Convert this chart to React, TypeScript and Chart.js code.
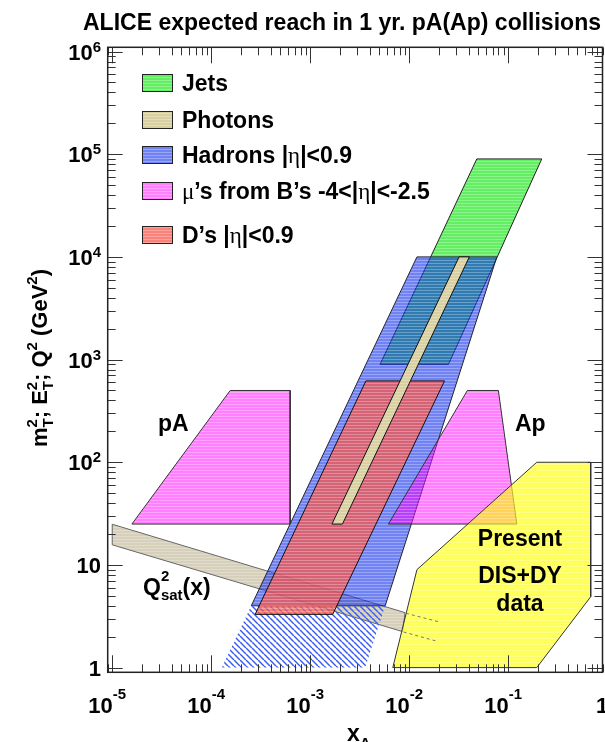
import React, { useEffect, useRef } from "react";
import { Chart, registerables } from "chart.js";

Chart.register(...registerables);

const SANS = '"Liberation Sans", Arial, Helvetica, sans-serif';
const SERIF = '"Liberation Serif", "DejaVu Serif", serif';

// ---------- axis ranges & tick labels ----------
const X_MIN = 9e-6;
const X_MAX = 0.9;
const Y_MIN = 0.9;
const Y_MAX = 1.1e6;
const xTickValues = [1e-5, 1e-4, 1e-3, 1e-2, 1e-1, 1];
const xTickBase = ["10", "10", "10", "10", "10", "1"];
const xTickSup = ["-5", "-4", "-3", "-2", "-1", ""];
const yTickValues = [1, 10, 100, 1e3, 1e4, 1e5, 1e6];
const yTickBase = ["1", "10", "10", "10", "10", "10", "10"];
const yTickSup = ["", "", "2", "3", "4", "5", "6"];

// ---------- regions (x_A, Q^2 vertices) ----------
const jetsX = [0.0483, 0.219, 0.025, 0.00509];
const jetsY = [9e4, 9e4, 900, 900];
const photonsX = [0.032, 0.0406, 0.00212, 0.00166];
const photonsY = [1e4, 1e4, 25, 25];
const hadronsX = [0.012, 0.077, 0.00573, 0.000254];
const hadronsY = [1e4, 1e4, 4, 4];
const hadronsLowX = [0.000254, 0.00573, 0.0036, 0.000128];
const hadronsLowY = [4, 4, 1, 1];
const dMesonX = [0.00366, 0.0228, 0.00169, 0.000278];
const dMesonY = [620, 620, 3.3, 3.3];
const muPAX = [0.0000158, 0.0001556, 0.000628, 0.000628];
const muPAY = [25, 500, 500, 25];
const muApX = [0.00618, 0.0388, 0.0798, 0.1225];
const muApY = [25, 500, 500, 25];
const disX = [0.00684, 0.012, 0.195, 0.684, 0.684, 0.195];
const disY = [1, 9, 100, 100, 4.9, 1];
const qsatX = [1e-5, 0.0091, 0.0086, 1e-5];
const qsatY = [24.9, 3.43, 2.24, 15.7];
const qsatExtTopX = [0.0093, 0.0198];
const qsatExtTopY = [3.38, 2.8];
const qsatExtBotX = [0.0088, 0.0198];
const qsatExtBotY = [2.22, 1.79];

// ---------- texts ----------
const TITLE = "ALICE expected reach in 1 yr. pA(Ap) collisions";
const legendNames = ["Jets", "Photons", "Hadrons", "muons", "D"];
const disLines = ["Present", "DIS+DY", "data"];

type Seg = { t: string; size: number; dy?: number; serif?: boolean; normal?: boolean; stack?: boolean };

function segFont(s: Seg) {
  return `${s.normal ? "" : "bold "}${s.size}px ${s.serif ? SERIF : SANS}`;
}
function richWidth(ctx: CanvasRenderingContext2D, segs: Seg[]) {
  let x = 0;
  let prev = 0;
  for (const s of segs) {
    ctx.font = segFont(s);
    const w = ctx.measureText(s.t).width;
    if (s.stack) x = Math.max(x, prev + w);
    else {
      prev = x;
      x += w;
    }
  }
  return x;
}
function drawRich(ctx: CanvasRenderingContext2D, x0: number, y0: number, segs: Seg[], align = "left") {
  const w = richWidth(ctx, segs);
  let x = align === "center" ? x0 - w / 2 : align === "right" ? x0 - w : x0;
  let prev = x;
  ctx.textAlign = "left";
  ctx.textBaseline = "alphabetic";
  for (const s of segs) {
    ctx.font = segFont(s);
    const tw = ctx.measureText(s.t).width;
    if (s.stack) {
      ctx.fillText(s.t, prev, y0 + (s.dy || 0));
      x = Math.max(x, prev + tw);
    } else {
      prev = x;
      ctx.fillText(s.t, x, y0 + (s.dy || 0));
      x += tw;
    }
  }
}

const F = 23;
const legendSegs: Seg[][] = [
  [{ t: "Jets", size: F }],
  [{ t: "Photons", size: F }],
  [{ t: "Hadrons |", size: F }, { t: "η", size: F, serif: true, normal: true }, { t: "|<0.9", size: F }],
  [
    { t: "μ", size: F, serif: true, normal: true },
    { t: "’s from B’s -4<|", size: F },
    { t: "η", size: F, serif: true, normal: true },
    { t: "|<-2.5", size: F },
  ],
  [{ t: "D’s |", size: F }, { t: "η", size: F, serif: true, normal: true }, { t: "|<0.9", size: F }],
];
const legendRowY = [83, 120, 155, 191, 235];

function scanPattern(r: number, g: number, b: number, a: number) {
  const c = document.createElement("canvas");
  c.width = 2;
  c.height = 3;
  const p = c.getContext("2d")!;
  p.fillStyle = `rgba(${r},${g},${b},${a})`;
  p.fillRect(0, 0, 2, 2);
  const l = (v: number) => Math.round(v + (255 - v) * 0.28);
  p.fillStyle = `rgba(${l(r)},${l(g)},${l(b)},${a})`;
  p.fillRect(0, 2, 2, 1);
  return p.createPattern(c, "repeat")!;
}
function hatchPattern() {
  const s = 6;
  const c = document.createElement("canvas");
  c.width = s;
  c.height = s;
  const p = c.getContext("2d")!;
  p.strokeStyle = "rgb(60,95,240)";
  p.lineWidth = 1.5;
  for (const k of [-1, 0, 1]) {
    p.beginPath();
    p.moveTo(k * s, 0);
    p.lineTo(k * s + s, s);
    p.stroke();
  }
  return p.createPattern(c, "repeat")!;
}

function poly(label: string, xs: number[], ys: number[], fill: any, border: string, order: number, bw = 1) {
  const data = xs.map((x, i) => ({ x, y: ys[i] }));
  data.push({ x: xs[0], y: ys[0] });
  return {
    type: "line",
    label,
    data,
    backgroundColor: fill,
    borderColor: border,
    borderWidth: bw,
    fill: "shape",
    pointRadius: 0,
    pointHoverRadius: 0,
    tension: 0,
    order,
  };
}
function dashed(label: string, xs: number[], ys: number[], order: number) {
  return {
    type: "line",
    label,
    data: xs.map((x, i) => ({ x, y: ys[i] })),
    borderColor: "#777",
    borderWidth: 1,
    borderDash: [3, 3],
    fill: false,
    pointRadius: 0,
    tension: 0,
    order,
  };
}

export default function App() {
  const ref = useRef<HTMLCanvasElement>(null);
  useEffect(() => {
    document.body.style.margin = "0";
    const canvas = ref.current!;
    const fills: Record<string, any> = {
      Jets: scanPattern(100, 238, 100, 1),
      Photons: scanPattern(216, 208, 160, 1),
      Hadrons: scanPattern(10, 40, 235, 0.58),
      muons: scanPattern(255, 0, 255, 0.5),
      D: scanPattern(248, 88, 75, 0.75),
      DIS: scanPattern(255, 255, 0, 0.65),
      Qsat: scanPattern(214, 207, 185, 1),
    };
    const legendBorder = "#222";

    const overlay = {
      id: "overlay",
      afterDraw(chart: any) {
        const ctx: CanvasRenderingContext2D = chart.ctx;
        const xs = chart.scales.x;
        const ys = chart.scales.y;
        const { left, right, top, bottom } = chart.chartArea;
        ctx.save();
        ctx.strokeStyle = "#333";
        ctx.lineWidth = 1;
        const ln = (x1: number, y1: number, x2: number, y2: number) => {
          ctx.beginPath();
          ctx.moveTo(x1, y1);
          ctx.lineTo(x2, y2);
          ctx.stroke();
        };
        for (let d = -6; d <= 0; d++)
          for (let k = 1; k <= 9; k++) {
            const v = k * Math.pow(10, d);
            if (v < X_MIN || v > X_MAX) continue;
            const px = Math.round(xs.getPixelForValue(v)) + 0.5;
            ln(px, bottom, px, bottom - (k === 1 ? 17 : 8));
            ln(px, top, px, top + (k === 1 ? 16 : 8));
          }
        for (let d = -1; d <= 6; d++)
          for (let k = 1; k <= 9; k++) {
            const v = k * Math.pow(10, d);
            if (v < Y_MIN || v > Y_MAX) continue;
            const py = Math.round(ys.getPixelForValue(v)) + 0.5;
            ln(left, py, left + (k === 1 ? 15 : 8), py);
            ln(right, py, right - (k === 1 ? 15 : 8), py);
          }
        ctx.lineWidth = 1.5;
        ctx.strokeStyle = "#222";
        ctx.strokeRect(left, top, right - left, bottom - top);

        ctx.fillStyle = "#000";
        xTickValues.forEach((v, i) => {
          const px = xs.getPixelForValue(v);
          const segs: Seg[] = [{ t: xTickBase[i], size: 22 }];
          if (xTickSup[i]) segs.push({ t: xTickSup[i], size: 15, dy: -14 });
          drawRich(ctx, px - 5, 713, segs, "center");
        });
        yTickValues.forEach((v, i) => {
          const py = ys.getPixelForValue(v);
          const segs: Seg[] = [{ t: yTickBase[i], size: 22 }];
          if (yTickSup[i]) segs.push({ t: yTickSup[i], size: 15, dy: -8 });
          drawRich(ctx, 101, py + 8, segs, "right");
        });
        drawRich(ctx, 347, 741, [{ t: "x", size: 23 }, { t: "A", size: 15, dy: 7 }]);
        ctx.save();
        ctx.translate(47, 358);
        ctx.rotate(-Math.PI / 2);
        drawRich(
          ctx,
          0,
          0,
          [
            { t: "m", size: 22 },
            { t: "2", size: 15, dy: -10 },
            { t: "T", size: 15, dy: 6, stack: true },
            { t: "; E", size: 22 },
            { t: "2", size: 15, dy: -10 },
            { t: "T", size: 15, dy: 6, stack: true },
            { t: "; Q", size: 22 },
            { t: "2", size: 15, dy: -10 },
            { t: " (GeV", size: 22 },
            { t: "2", size: 15, dy: -10 },
            { t: ")", size: 22 },
          ],
          "center"
        );
        ctx.restore();
        ctx.font = `bold 23px ${SANS}`;
        const tw = ctx.measureText(TITLE).width;
        const ts = (23 * 518) / tw;
        ctx.font = `bold ${ts.toFixed(2)}px ${SANS}`;
        ctx.textAlign = "left";
        ctx.fillText(TITLE, 83, 30);

        legendNames.forEach((n, i) => {
          const cy = legendRowY[i];
          ctx.fillStyle = "#fff";
          ctx.fillRect(142, cy - 9, 31, 18);
          ctx.fillStyle = fills[n];
          ctx.fillRect(142, cy - 9, 31, 18);
          ctx.strokeStyle = legendBorder;
          ctx.lineWidth = 1;
          ctx.strokeRect(142.5, cy - 8.5, 30, 17);
          ctx.fillStyle = "#000";
          drawRich(ctx, 182, cy + 8, legendSegs[i]);
        });

        ctx.fillStyle = "#000";
        drawRich(ctx, 158, 431, [{ t: "pA", size: F }]);
        drawRich(ctx, 515, 431, [{ t: "Ap", size: F }]);
        drawRich(ctx, 143, 595, [
          { t: "Q", size: F },
          { t: "2", size: 15, dy: -14 },
          { t: "sat", size: 15, dy: 5, stack: true },
          { t: "(x)", size: F },
        ]);
        const dy = [546, 583, 611];
        disLines.forEach((t, i) => drawRich(ctx, 520, dy[i], [{ t, size: F }], "center"));
        ctx.restore();
      },
    };

    const datasets: any[] = [
      poly("Photons", photonsX, photonsY, fills.Photons, "#111", 1),
      dashed("Qsat ext top", qsatExtTopX, qsatExtTopY, 2),
      dashed("Qsat ext bottom", qsatExtBotX, qsatExtBotY, 2),
      poly("DIS+DY", disX, disY, fills.DIS, "#333", 3),
      poly("D's", dMesonX, dMesonY, fills.D, "#111", 4),
      poly("mu Ap", muApX, muApY, fills.muons, "#333", 5),
      poly("mu pA", muPAX, muPAY, fills.muons, "#333", 6),
      poly("Hadrons low", hadronsLowX, hadronsLowY, hatchPattern(), "rgba(0,0,0,0)", 7, 0),
      poly("Hadrons", hadronsX, hadronsY, fills.Hadrons, "#223", 8),
      poly("Jets", jetsX, jetsY, fills.Jets, "#222", 9),
      poly("Qsat", qsatX, qsatY, fills.Qsat, "#666", 10),
    ];

    const chart = new Chart(canvas, {
      type: "line",
      data: { datasets },
      options: {
        responsive: false,
        animation: false,
        devicePixelRatio: 1,
        events: [],
        layout: { padding: { left: 107.7, right: 2.5, top: 47.3, bottom: 69.7 } },
        scales: {
          x: { type: "logarithmic", min: X_MIN, max: X_MAX, display: false },
          y: { type: "logarithmic", min: Y_MIN, max: Y_MAX, display: false },
        },
        plugins: { legend: { display: false }, tooltip: { enabled: false }, title: { display: false } },
      },
      plugins: [overlay],
    } as any);
    return () => chart.destroy();
  }, []);
  return (
    <div style={{ width: 605, height: 742 }}>
      <canvas ref={ref} width={605} height={742} style={{ display: "block", width: 605, height: 742 }} />
    </div>
  );
}
